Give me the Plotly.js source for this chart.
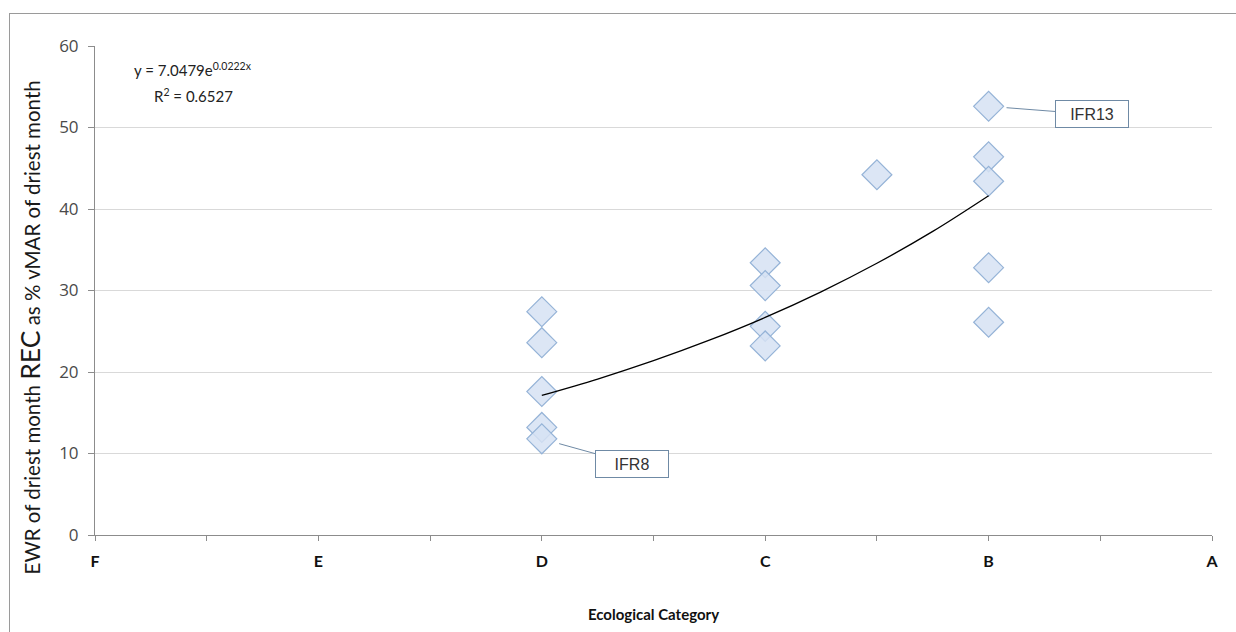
<!DOCTYPE html>
<html>
<head>
<meta charset="utf-8">
<script src="https://cdn.plot.ly/plotly-3.0.1.min.js"></script>
<style>
  html, body { margin:0; padding:0; background:#fff; overflow:hidden; }
  #wrap { position:relative; width:1236px; height:632px; overflow:hidden; }
  #frame { position:absolute; left:9px; top:13px; width:1260px; height:700px; border:1px solid #9a9a9a; pointer-events:none; z-index:5; }
  #chart { position:absolute; left:0; top:0; width:1236px; height:632px; }
</style>
</head>
<body>
<div id="wrap">
  <div id="chart"></div>
  <div id="frame"></div>
</div>
<script>
// Ecological category axis: F=0, E=20, D=40, C=60, B=80, A=100
const categoryLabels = ['F', 'E', 'D', 'C', 'B', 'A'];
const categoryPositions = [0, 20, 40, 60, 80, 100];

// Site values (x = category score, y = EWR as % vMAR)
const siteX = [40, 40, 40, 40, 40, 60, 60, 60, 60, 70, 80, 80, 80, 80, 80];
const siteY = [27.4, 23.6, 17.6, 13.2, 11.8, 33.4, 30.6, 25.6, 23.2, 44.2, 52.6, 46.4, 43.4, 32.8, 26.1];

// Exponential trendline (y = 7.0479e^0.0222x)
const trendX = [40, 45, 50, 55, 60, 65, 70, 75, 80];
const trendY = [17.13, 19.14, 21.39, 23.90, 26.70, 29.84, 33.34, 37.25, 41.63];

// Labelled sites
const labelNames = ['IFR13', 'IFR8'];
const labelX = [80, 40];
const labelY = [52.6, 11.8];

const traces = [
  {
    x: siteX, y: siteY, type: 'scatter', mode: 'markers',
    marker: { symbol: 'diamond', size: 23, color: 'rgba(214,226,243,0.85)',
              line: { color: 'rgb(149,179,215)', width: 1.2 } },
    hoverinfo: 'x+y', showlegend: false
  },
  {
    x: trendX, y: trendY, type: 'scatter', mode: 'lines',
    line: { color: '#000', width: 1.3, shape: 'spline' },
    hoverinfo: 'skip', showlegend: false
  }
];

const annotations = [
  {
    xref: 'paper', yref: 'paper', x: 0.088, y: 0.928, xanchor: 'center', yanchor: 'bottom',
    text: 'y = 7.0479e<sup>0.0222x</sup>', showarrow: false,
    font: { family: 'Lato, "Open Sans", sans-serif', size: 15, color: '#222' }
  },
  {
    xref: 'paper', yref: 'paper', x: 0.088, y: 0.922, xanchor: 'center', yanchor: 'top',
    text: 'R<sup>2</sup> = 0.6527', showarrow: false,
    font: { family: 'Lato, "Open Sans", sans-serif', size: 15, color: '#222' }
  },
  {
    xref: 'paper', yref: 'paper', x: -0.058, y: 0.425, xanchor: 'center', yanchor: 'middle',
    textangle: -90, showarrow: false,
    text: 'EWR of driest month <span style="font-size:26.5px">REC</span> as % vMAR of driest month',
    font: { family: 'Lato, "Open Sans", sans-serif', size: 20.5, color: '#1a1a1a' }
  }
];

const offsets = [[103, 8], [90, 25]];
for (let i = 0; i < labelNames.length; i++) {
  annotations.push({
    x: labelX[i], y: labelY[i], xref: 'x', yref: 'y',
    text: labelNames[i], showarrow: true, arrowhead: 0, arrowwidth: 1,
    arrowcolor: '#6f8aa5', standoff: 18,
    ax: offsets[i][0], ay: offsets[i][1],
    bordercolor: '#6f8aa5', borderwidth: 1, borderpad: 4, bgcolor: '#fff',
    width: 64, height: 18,
    font: { family: '"Liberation Sans", Arial, sans-serif', size: 16, color: '#333' }
  });
}

const layout = {
  width: 1236, height: 632,
  margin: { l: 95, r: 24, t: 46, b: 97 },
  paper_bgcolor: '#fff', plot_bgcolor: '#fff',
  xaxis: {
    range: [0, 100], tickmode: 'array',
    tickvals: categoryPositions, ticktext: categoryLabels.map(s => '<b>' + s + '</b>'),
    showgrid: false, zeroline: false, showline: true, linecolor: '#8c8c8c', linewidth: 1,
    ticks: '', ticklabelstandoff: 12,
    minor: { dtick: 10, ticks: 'outside', ticklen: 5, tickcolor: '#8c8c8c', showgrid: false },
    tickfont: { family: 'Lato, "Open Sans", sans-serif', size: 16, color: '#111' },
    title: { text: '<b>Ecological Category</b>', standoff: 40,
             font: { family: 'Lato, "Open Sans", sans-serif', size: 15, color: '#111' } },
    fixedrange: true
  },
  yaxis: {
    range: [0, 60], dtick: 10, showgrid: true, gridcolor: '#d9d9d9', gridwidth: 1,
    zeroline: false, showline: true, linecolor: '#8c8c8c', linewidth: 1,
    ticks: 'outside', ticklen: 6, tickcolor: '#8c8c8c', ticklabelstandoff: 6,
    tickfont: { family: '"Open Sans", Lato, sans-serif', size: 17, color: '#4a4a4a' },
    fixedrange: true
  },
  annotations: annotations,
  showlegend: false
};

Plotly.newPlot('chart', traces, layout, { displayModeBar: false, staticPlot: true });
</script>
</body>
</html>
